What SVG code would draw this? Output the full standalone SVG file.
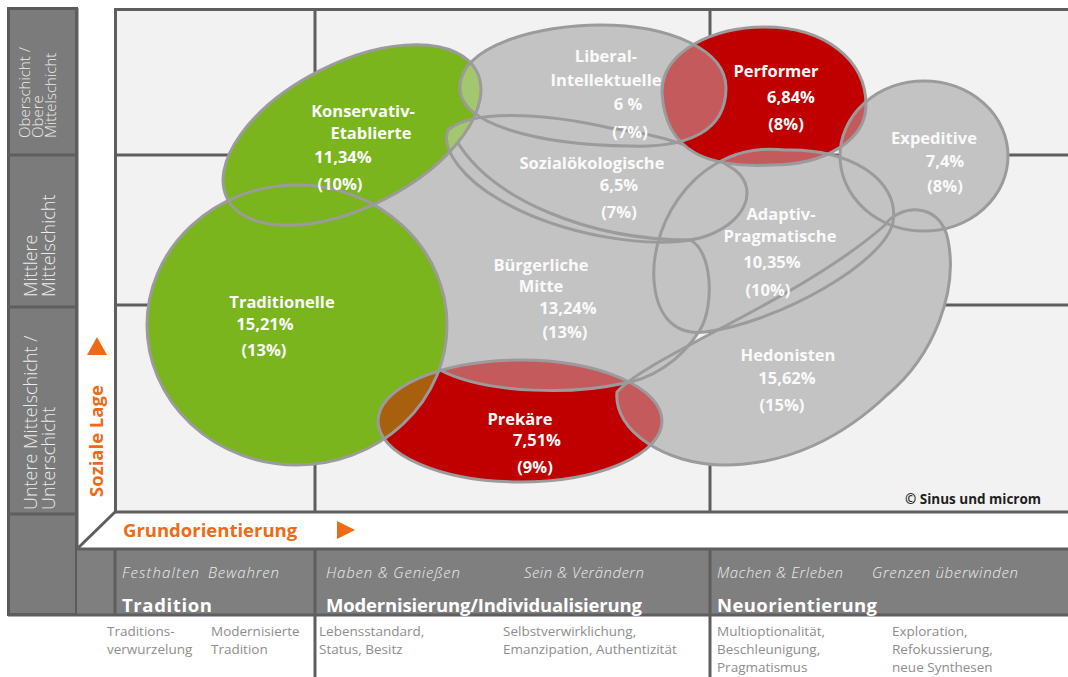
<svg xmlns="http://www.w3.org/2000/svg" width="1068" height="677" viewBox="0 0 1068 677">
  <style>
    .line{stroke:#5e5e5e;stroke-width:3;fill:none}
    .gray{fill:#c3c3c3}
    .green{fill:#7ab51d}
    .red{fill:#c00000}
    .ol{fill:none;stroke:#9b9b9b;stroke-width:3}
    .lens-g{fill:#a3c76c}
    .lens-r{fill:#c55a5c}
    .lens-b{fill:#a8600e}
    .lbl{font-family:"Open Sans","Liberation Sans",sans-serif;font-weight:700;font-size:16.5px;fill:#fafafa;text-anchor:middle}
    .side{font-family:"Open Sans","Liberation Sans",sans-serif;font-weight:300;fill:#ececec}
    .axis{font-family:"Open Sans","Liberation Sans",sans-serif;font-weight:700;font-size:18.5px;fill:#ee6a16}
    .motto{font-family:"Open Sans","Liberation Sans",sans-serif;font-style:italic;font-weight:300;font-size:15px;fill:#ededed}
    .head{font-family:"Open Sans","Liberation Sans",sans-serif;font-weight:700;font-size:18.5px;fill:#ffffff}
    .desc{font-family:"Open Sans","Liberation Sans",sans-serif;font-weight:400;font-size:13.5px;fill:#8e8e8e}
    .copy{font-family:"Open Sans","Liberation Sans",sans-serif;font-weight:700;font-size:13.5px;fill:#1e1e1e}
  </style>
  <defs>
    <!-- milieu outlines -->
    <ellipse id="s-kon" cx="352" cy="135" rx="140" ry="72" transform="rotate(-27 352 135)"/>
    <ellipse id="s-tra" cx="297" cy="325" rx="150" ry="140"/>
    <path id="s-lib" d="M460,88 C460,45 540,25 600,25 C670,25 726,50 726,88 C726,130 690,148 630,146 C540,145 460,125 460,88Z"/>
    <path id="s-soz" d="M448,130 C470,110 540,112 610,128 C660,135 700,146 735,170 C760,190 745,225 700,238 C650,250 560,235 500,200 C465,180 440,150 448,130Z"/>
    <path id="s-bm" d="M368,200 C395,180 430,155 455,138 C490,200 590,240 690,240 C712,250 715,305 700,330 C680,362 650,380 620,384 C580,393 490,396 440,370 C420,330 395,255 368,200Z"/>
    <path id="s-per" d="M662,92 C662,50 715,27 765,27 C825,27 866,60 866,105 C866,140 825,165 772,165 C712,168 665,155 662,92Z"/>
    <ellipse id="s-exp" cx="924" cy="156" rx="84" ry="75"/>
    <path id="s-ada" d="M654,280 C650,220 700,140 785,150 C850,148 900,180 893,222 C885,262 780,322 705,332 C670,336 656,310 654,280Z"/>
    <path id="s-hed" d="M617,392 C650,355 800,300 885,225 C898,205 940,200 948,240 C958,290 935,355 887,395 C845,435 790,465 725,465 C665,465 613,430 617,392Z"/>
    <ellipse id="s-pre" cx="520" cy="421" rx="142" ry="61"/>
    <clipPath id="c-kon"><use href="#s-kon"/></clipPath>
    <clipPath id="c-per"><use href="#s-per"/></clipPath>
    <clipPath id="c-pre"><use href="#s-pre"/></clipPath>
  </defs>

  <rect width="1068" height="677" fill="#ffffff"/>

  <!-- social level column -->
  <g id="social-levels">
    <rect x="8.5" y="8.5" width="68" height="606" fill="#7b7b7b" stroke="#5a5a5a" stroke-width="3"/>
    <line class="line" x1="8" y1="155" x2="77" y2="155"/>
    <line class="line" x1="8" y1="307" x2="77" y2="307"/>
    <line class="line" x1="8" y1="514" x2="77" y2="514"/>
    <text class="side" font-size="15" transform="translate(30,138) rotate(-90)">Oberschicht /</text>
    <text class="side" font-size="15" transform="translate(43,138) rotate(-90)">Obere</text>
    <text class="side" font-size="15" transform="translate(56,138) rotate(-90)">Mittelschicht</text>
    <text class="side" font-size="18" transform="translate(37,297) rotate(-90)">Mittlere</text>
    <text class="side" font-size="18" transform="translate(55,297) rotate(-90)">Mittelschicht</text>
    <text class="side" font-size="18" transform="translate(37,510) rotate(-90)">Untere Mittelschicht /</text>
    <text class="side" font-size="18" transform="translate(55,510) rotate(-90)">Unterschicht</text>
  </g>

  <!-- value orientation band -->
  <g id="orientation-band">
    <rect x="77" y="549" width="991" height="66" fill="#7f7f7f"/>
    <line class="line" x1="77" y1="549" x2="1068" y2="549"/>
    <line class="line" x1="8" y1="615" x2="1068" y2="615"/>
    <line class="line" x1="115" y1="549" x2="115" y2="615"/>
    <line class="line" x1="315" y1="549" x2="315" y2="677"/>
    <line class="line" x1="710" y1="549" x2="710" y2="677"/>
    <line class="line" x1="77" y1="549" x2="115" y2="512"/>
    <text class="motto" x="122" y="578" textLength="77">Festhalten</text>
    <text class="motto" x="208" y="578" textLength="71">Bewahren</text>
    <text class="motto" x="326" y="578" textLength="134">Haben &amp; Genießen</text>
    <text class="motto" x="524" y="578" textLength="120">Sein &amp; Verändern</text>
    <text class="motto" x="717" y="578" textLength="126">Machen &amp; Erleben</text>
    <text class="motto" x="872" y="578" textLength="146">Grenzen überwinden</text>
    <text class="head" x="122" y="612" textLength="90">Tradition</text>
    <text class="head" x="326" y="612" textLength="316">Modernisierung/Individualisierung</text>
    <text class="head" x="717" y="612" textLength="160">Neuorientierung</text>
    <text class="desc" x="107" y="636">Traditions-</text>
    <text class="desc" x="107" y="654">verwurzelung</text>
    <text class="desc" x="211" y="636">Modernisierte</text>
    <text class="desc" x="211" y="654">Tradition</text>
    <text class="desc" x="319" y="636">Lebensstandard,</text>
    <text class="desc" x="319" y="654">Status, Besitz</text>
    <text class="desc" x="503" y="636">Selbstverwirklichung,</text>
    <text class="desc" x="503" y="654">Emanzipation, Authentizität</text>
    <text class="desc" x="717" y="636">Multioptionalität,</text>
    <text class="desc" x="717" y="654">Beschleunigung,</text>
    <text class="desc" x="717" y="672">Pragmatismus</text>
    <text class="desc" x="892" y="636">Exploration,</text>
    <text class="desc" x="892" y="654">Refokussierung,</text>
    <text class="desc" x="892" y="672">neue Synthesen</text>
  </g>

  <!-- chart field and grid -->
  <g id="chart-grid">
    <rect x="115" y="9" width="953" height="503" fill="#f2f2f2"/>
    <line class="line" x1="315" y1="9" x2="315" y2="512"/>
    <line class="line" x1="710" y1="9" x2="710" y2="512"/>
    <line class="line" x1="115" y1="155" x2="1068" y2="155"/>
    <line class="line" x1="115" y1="305" x2="1068" y2="305"/>
    <line class="line" x1="115" y1="9.5" x2="1068" y2="9.5"/>
    <line class="line" x1="115.5" y1="8" x2="115.5" y2="513"/>
    <line class="line" x1="115" y1="512" x2="1068" y2="512"/>
    <line class="line" x1="77" y1="8" x2="77" y2="549"/>
  </g>

  <!-- axis captions -->
  <g id="axes">
    <text class="axis" transform="translate(103,497) rotate(-90)">Soziale Lage</text>
    <polygon points="97,337 107,355 87,355" fill="#ee6a16"/>
    <text class="axis" x="123" y="537">Grundorientierung</text>
    <polygon points="337,521 355,530 337,539" fill="#ee6a16"/>
    <text class="copy" x="905" y="504">© Sinus und microm</text>
  </g>

  <!-- shared grey fill of the grey milieus -->
  <g id="grey-fill" class="gray">
    <use href="#s-bm"/><use href="#s-soz"/><use href="#s-lib"/>
    <use href="#s-hed"/><use href="#s-ada"/><use href="#s-exp"/>
  </g>

  <g id="node-buergerliche-mitte">
    <use href="#s-bm" class="ol"/>
    <text class="lbl"><tspan x="541" y="271">Bürgerliche</tspan><tspan x="541" y="292">Mitte</tspan><tspan x="568" y="314">13,24%</tspan><tspan x="565" y="338">(13%)</tspan></text>
  </g>

  <g id="node-sozialoekologische">
    <use href="#s-soz" class="ol"/>
    <text class="lbl"><tspan x="592" y="169">Sozialökologische</tspan><tspan x="619" y="191">6,5%</tspan><tspan x="619" y="218">(7%)</tspan></text>
  </g>

  <g id="node-liberal-intellektuelle">
    <use href="#s-lib" class="ol"/>
    <text class="lbl"><tspan x="606" y="62">Liberal-</tspan><tspan x="606" y="86">Intellektuelle</tspan><tspan x="628" y="110">6 %</tspan><tspan x="630" y="138">(7%)</tspan></text>
  </g>

  <g id="node-hedonisten">
    <use href="#s-hed" class="ol"/>
    <text class="lbl"><tspan x="788" y="361">Hedonisten</tspan><tspan x="787" y="384">15,62%</tspan><tspan x="782" y="411">(15%)</tspan></text>
  </g>

  <g id="node-adaptiv-pragmatische">
    <use href="#s-ada" class="ol"/>
    <text class="lbl"><tspan x="781" y="220">Adaptiv-</tspan><tspan x="780" y="242">Pragmatische</tspan><tspan x="772" y="268">10,35%</tspan><tspan x="768" y="296">(10%)</tspan></text>
  </g>

  <g id="node-expeditive">
    <use href="#s-exp" class="ol"/>
    <text class="lbl"><tspan x="934" y="144">Expeditive</tspan><tspan x="945" y="167">7,4%</tspan><tspan x="945" y="192">(8%)</tspan></text>
  </g>

  <g id="node-traditionelle">
    <use href="#s-tra" class="green"/>
    <use href="#s-tra" class="ol"/>
    <text class="lbl"><tspan x="282" y="308">Traditionelle</tspan><tspan x="265" y="330">15,21%</tspan><tspan x="264" y="356">(13%)</tspan></text>
  </g>

  <g id="node-konservativ-etablierte">
    <use href="#s-kon" class="green"/>
    <g clip-path="url(#c-kon)">
      <use href="#s-lib" class="lens-g"/>
      <use href="#s-soz" class="lens-g"/>
      <use href="#s-lib" class="ol"/>
      <use href="#s-soz" class="ol"/>
      <use href="#s-tra" class="ol"/>
    </g>
    <use href="#s-kon" class="ol"/>
    <text class="lbl"><tspan x="363" y="117">Konservativ-</tspan><tspan x="371" y="139">Etablierte</tspan><tspan x="343" y="163">11,34%</tspan><tspan x="340" y="190">(10%)</tspan></text>
  </g>

  <g id="node-performer">
    <use href="#s-per" class="red"/>
    <g clip-path="url(#c-per)">
      <use href="#s-lib" class="lens-r"/>
      <use href="#s-exp" class="lens-r"/>
      <use href="#s-ada" class="lens-r"/>
      <use href="#s-lib" class="ol"/>
      <use href="#s-exp" class="ol"/>
      <use href="#s-ada" class="ol"/>
    </g>
    <use href="#s-per" class="ol"/>
    <text class="lbl"><tspan x="776" y="77">Performer</tspan><tspan x="791" y="103">6,84%</tspan><tspan x="786" y="130">(8%)</tspan></text>
  </g>

  <g id="node-prekaere">
    <use href="#s-pre" class="red"/>
    <g clip-path="url(#c-pre)">
      <use href="#s-bm" class="lens-r"/>
      <use href="#s-hed" class="lens-r"/>
      <use href="#s-tra" class="lens-b"/>
      <use href="#s-bm" class="ol"/>
      <use href="#s-hed" class="ol"/>
      <use href="#s-tra" class="ol"/>
    </g>
    <use href="#s-pre" class="ol"/>
    <text class="lbl"><tspan x="520" y="425">Prekäre</tspan><tspan x="537" y="446">7,51%</tspan><tspan x="535" y="473">(9%)</tspan></text>
  </g>
</svg>
